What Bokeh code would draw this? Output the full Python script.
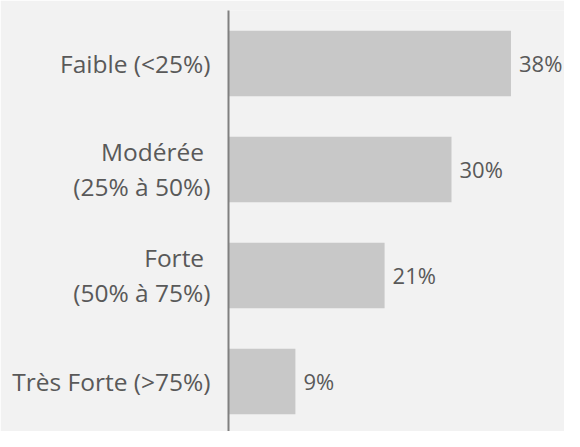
from bokeh.plotting import figure
from bokeh.models import Range1d, FixedTicker
from bokeh.core.properties import value
from bokeh.embed import file_html
from bokeh.resources import INLINE

categories = ["Faible (<25%)", "Modérée \n(25% à 50%)", "Forte \n(50% à 75%)", "Très Forte (>75%)"]
values = [38, 30, 21, 9]
value_labels = ["38%", "30%", "21%", "9%"]

n = len(categories)
ypos = [n - 1 - i for i in range(n)]

FONT = "Open Sans"
TEXT_COLOR = "#595959"

p = figure(width=564, height=431, output_backend="svg", toolbar_location=None,
           x_range=Range1d(0, 45.2), y_range=Range1d(-0.472, 3.5),
           min_border_left=228, min_border_right=0, min_border_top=10, min_border_bottom=0)
p.background_fill_color = "#f2f2f2"
p.border_fill_color = "#f2f2f2"
p.outline_line_color = None
p.xgrid.visible = False
p.ygrid.visible = False
p.xaxis.visible = False

p.hbar(y=ypos, left=0, right=values, height=0.618, fill_color="#c8c8c8", line_color=None)
p.text(x=values, y=ypos, text=value_labels, x_offset=8, text_align="left", text_baseline="middle",
       text_font=value(FONT), text_font_size="22px", text_color=TEXT_COLOR)

ya = p.yaxis[0]
ya.ticker = FixedTicker(ticks=ypos)
ya.major_label_overrides = {y: c for y, c in zip(ypos, categories)}
ya.axis_line_color = "#808080"
ya.axis_line_width = 2
ya.major_tick_line_color = None
ya.minor_tick_line_color = None
ya.major_tick_in = 0
ya.major_tick_out = 0
ya.major_label_standoff = 18
ya.major_label_text_font = FONT
ya.major_label_text_font_size = "24.5px"
ya.major_label_text_color = TEXT_COLOR
ya.major_label_text_line_height = 1.06

open("out.html", "w").write(file_html(p, INLINE))
